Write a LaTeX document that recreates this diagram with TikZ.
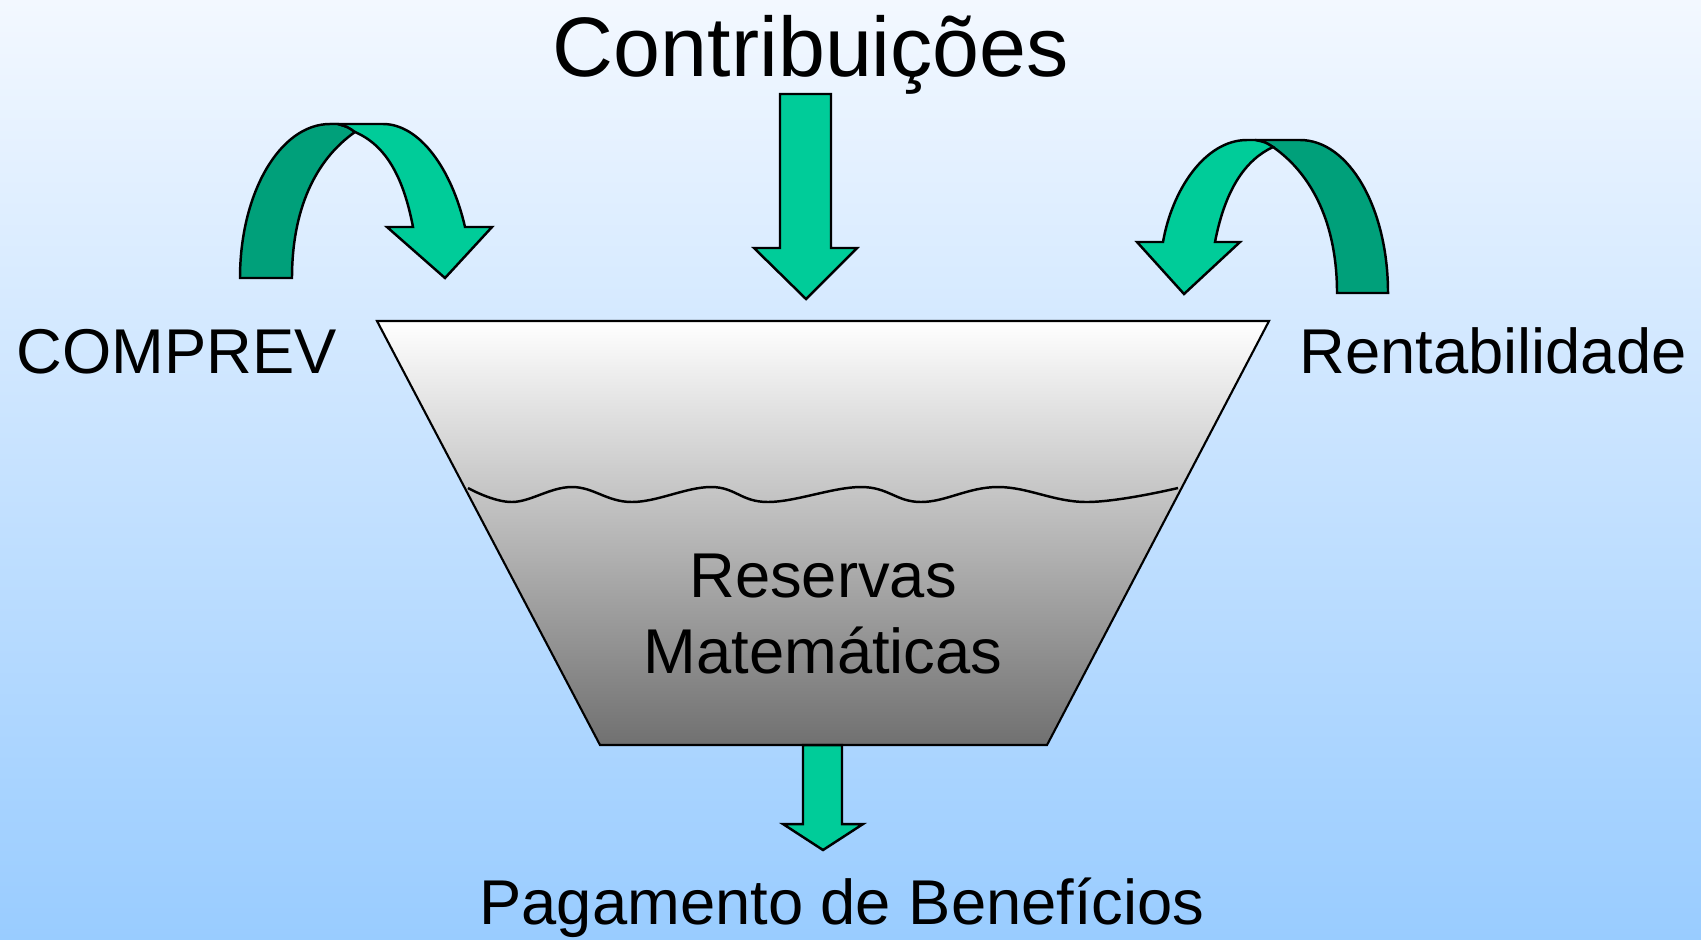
\documentclass[tikz,border=0pt]{standalone}
\usepackage{fontspec}
\setmainfont{Liberation Sans}
\definecolor{bgtop}{RGB}{243,248,255}
\definecolor{bgbottom}{RGB}{153,204,255}
\definecolor{flowlight}{RGB}{0,204,153}
\definecolor{flowdark}{RGB}{0,160,122}
\tikzset{
  flowarrow/.style={draw=black, line width=0.7pt, line join=miter, fill=flowlight},
  flowback/.style={flowarrow, fill=flowdark},
  tank/.style={draw=black, line width=0.6pt, top color=white, bottom color=black!56},
  wave/.style={draw=black, line width=0.7pt},
  labeltext/.style={inner sep=0pt, font=\fontsize{18}{21.6}\selectfont},
  titletext/.style={inner sep=0pt, font=\fontsize{24}{28.8}\selectfont},
}

\begin{document}
\begin{tikzpicture}[x=0.01cm, y=-0.01cm]
    % background
    \shade[top color=bgtop, bottom color=bgbottom] (0,0) rectangle (1701,939);
    \useasboundingbox (0,0) rectangle (1701,939);
    % define points
    % tank
    \coordinate (tank_tl) at (377,321);
    \coordinate (tank_tr) at (1269,321);
    \coordinate (tank_br) at (1047,745);
    \coordinate (tank_bl) at (600,745);
    % straight arrows
    \coordinate (contrib_top) at (806,94);
    \coordinate (contrib_tip) at (806,299);
    \coordinate (pay_top) at (823,745);
    \coordinate (pay_tip) at (823,850);
    % draw tank
    \shade[tank] (tank_tl) -- (tank_tr) -- (tank_br) -- (tank_bl) -- cycle;
    \draw[wave] plot[smooth, tension=0.65] coordinates {
        (468,488) (512,502) (572,487) (632,502) (711,487) (768,502)
        (861,487) (921,502) (998,487) (1086,502) (1178,488)};
    % draw straight arrows
    \draw[flowarrow] (contrib_top) ++(-26,0) -- ++(51,0) -- ++(0,154) -- ++(26,0)
        -- (contrib_tip) -- ++(-52,-51) -- ++(26,0) -- cycle;
    \draw[flowarrow] (pay_top) ++(-20,0) -- ++(39,0) -- ++(0,79) -- ++(21,0)
        -- (pay_tip) -- ++(-40,-26) -- ++(20,0) -- cycle;
    % draw curved arrow (left)
    \draw[flowback] (240,278) .. controls (240,193) and (280,124) .. (330,124)
        -- (338,124) .. controls (348,127) .. (355,132)
        .. controls (315,160) and (292,210) .. (292,278) -- cycle;
    \draw[flowarrow] (338,124) -- (383,124) .. controls (420,124) and (452,170) .. (465,227)
        -- (492,227) -- (445,278) -- (387,227) -- (413,227)
        .. controls (403,175) and (385,145) .. (355,132)
        .. controls (348,127) .. (338,124) -- cycle;
    % draw curved arrow (right)
    \draw[flowback] (1337,293) -- (1388,293) .. controls (1388,208) and (1349,140) .. (1300,140)
        -- (1255,140) .. controls (1265,142) .. (1273,147)
        .. controls (1313,175) and (1337,225) .. (1337,293) -- cycle;
    \draw[flowarrow] (1247,140) -- (1255,140) .. controls (1265,142) .. (1273,147)
        .. controls (1245,160) and (1225,190) .. (1215,242)
        -- (1240,242) -- (1184,294) -- (1137,242) -- (1163,242)
        .. controls (1172,190) and (1205,140) .. (1247,140) -- cycle;
    % add labels
    \node[titletext, anchor=base] (contrib) at (811,76) {Contribuições};
    \node[labeltext, anchor=base] (comprev) at (177,373) {COMPREV};
    \node[labeltext, anchor=base] (rentab) at (1493,373) {Rentabilidade};
    \node[labeltext, anchor=base] (reservas) at (823,597) {Reservas};
    \node[labeltext, anchor=base] (matematicas) at (823,673) {Matemáticas};
    \node[labeltext, anchor=base] (pagamento) at (842,924) {Pagamento de Benefícios};
\end{tikzpicture}
\end{document}
